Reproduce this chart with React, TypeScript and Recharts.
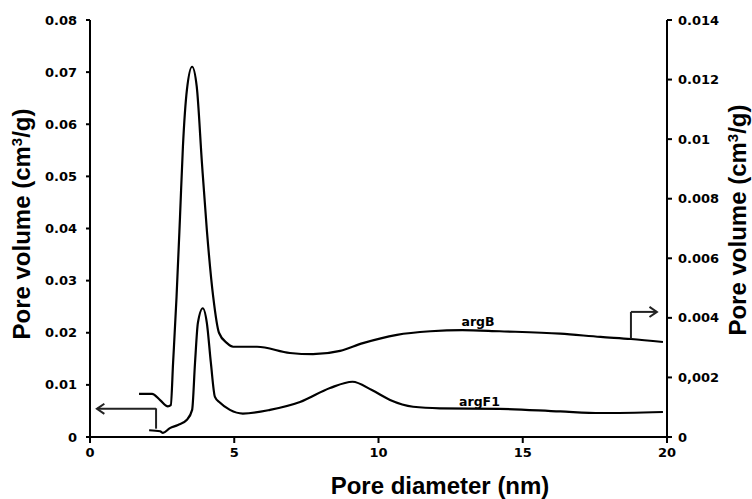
import React from 'react'
import {
  LineChart,
  Line,
  XAxis,
  YAxis,
  ReferenceLine,
  ReferenceDot
} from 'recharts'

// pore diameter (nm) / pore volume (cm3/g)
const argF1Diameter = [2.05, 2.43, 2.53, 2.77, 3.05, 3.36, 3.54, 3.64, 3.74, 3.91, 4.05, 4.19, 4.33, 4.5, 4.85, 5.3, 6.24, 7.28, 8.32, 9.1, 9.77, 10.4, 11.2, 12.13, 14.2, 16.3, 17.7, 19.86]
const argF1Volume = [0.0013, 0.0011, 0.0008, 0.0017, 0.0023, 0.0033, 0.0052, 0.0142, 0.0219, 0.0247, 0.0219, 0.0142, 0.0077, 0.0066, 0.0052, 0.0045, 0.0052, 0.0067, 0.0094, 0.0106, 0.009, 0.0071, 0.0058, 0.0055, 0.0054, 0.0049, 0.0046, 0.0048]

// argB is read on the right axis
const argBDiameter = [1.7, 2.15, 2.43, 2.7, 2.8, 2.88, 3.0, 3.12, 3.22, 3.36, 3.54, 3.7, 3.88, 4.05, 4.27, 4.47, 4.75, 4.96, 5.79, 6.93, 7.73, 8.67, 9.46, 10.64, 11.8, 12.9, 14.2, 16.3, 17.7, 18.75, 19.86]
const argBVolume = [0.00145, 0.00145, 0.00124, 0.00103, 0.00107, 0.00249, 0.00471, 0.00739, 0.00973, 0.01166, 0.01243, 0.01176, 0.0092, 0.00695, 0.00471, 0.0035, 0.00315, 0.00303, 0.00303, 0.00282, 0.00278, 0.00289, 0.00315, 0.00343, 0.00355, 0.00359, 0.00355, 0.00347, 0.00336, 0.00329, 0.00319]

const xTicks = [0, 5, 10, 15, 20]
const leftTicks = [0, 0.01, 0.02, 0.03, 0.04, 0.05, 0.06, 0.07, 0.08]
const rightTicks = [0, 0.002, 0.004, 0.006, 0.008, 0.01, 0.012, 0.014]
const rightTickLabels = ['0', '0,002', '0.004', '0.006', '0.008', '0.01', '0.012', '0.014']

const argF1Data = argF1Diameter.map((d, i) => ({ d, v: argF1Volume[i] }))
const argBData = argBDiameter.map((d, i) => ({ d, v: argBVolume[i] }))

const TICK_FONT = { fontFamily: 'DejaVu Sans', fontWeight: 'bold', fontSize: 13, fill: '#000' }
const TITLE_FONT = 'Liberation Sans'

const leftFormat = (v: number) => (v === 0 ? '0' : v.toFixed(2))
const rightFormat = (v: number) => {
  const i = rightTicks.findIndex(t => Math.abs(t - v) < 1e-9)
  return i >= 0 ? rightTickLabels[i] : String(v)
}

const Arrow = (p: any) => {
  const { x1, y1, x2, y2 } = p
  const a = Math.atan2(y2 - y1, x2 - x1)
  const len = 9
  const s = 0.6
  const pts = [
    [x2 - len * Math.cos(a - s), y2 - len * Math.sin(a - s)],
    [x2, y2],
    [x2 - len * Math.cos(a + s), y2 - len * Math.sin(a + s)]
  ]
  return (
    <g>
      <line x1={x1} y1={y1} x2={x2} y2={y2} stroke="#222" strokeWidth={2} />
      <polyline points={pts.map(q => q.join(',')).join(' ')} fill="none" stroke="#222" strokeWidth={2} />
    </g>
  )
}

const Stem = (p: any) => (
  <line x1={p.x1} y1={p.y1} x2={p.x2} y2={p.y2} stroke="#222" strokeWidth={2} />
)

const seriesLabel = (text: string) => (p: any) => (
  <text
    x={p.cx}
    y={p.cy}
    textAnchor="middle"
    dominantBaseline="central"
    fontFamily="DejaVu Sans"
    fontWeight="bold"
    fontSize={12.5}
    fill="#000"
  >
    {text}
  </text>
)

const YTitle = ({ x, y }: { x: number; y: number }) => (
  <text
    x={x}
    y={y}
    transform={`rotate(-90, ${x}, ${y})`}
    textAnchor="middle"
    fontFamily={TITLE_FONT}
    fontWeight="bold"
    fontSize={24}
    fill="#000"
  >
    Pore volume (cm<tspan dy={-8} fontSize={15}>3</tspan>
    <tspan dy={8}>/g)</tspan>
  </text>
)

export default function App() {
  return (
    <div style={{ position: 'absolute', left: 0, top: 0, width: 752, height: 499, background: '#fff' }}>
      <LineChart width={752} height={499} margin={{ top: 20, right: 25, bottom: 32, left: 30 }}>
        <XAxis
          dataKey="d"
          type="number"
          domain={[0, 20]}
          ticks={xTicks}
          allowDataOverflow
          height={30}
          axisLine={{ stroke: '#000', strokeWidth: 2 }}
          tickLine={{ stroke: '#000', strokeWidth: 2 }}
          tickSize={6}
          tickMargin={5}
          tick={TICK_FONT}
        />
        <YAxis
          yAxisId="left"
          domain={[0, 0.08]}
          ticks={leftTicks}
          width={60}
          axisLine={{ stroke: '#000', strokeWidth: 2 }}
          tickLine={{ stroke: '#000', strokeWidth: 2 }}
          tickSize={4}
          tickMargin={9}
          tickFormatter={leftFormat}
          tick={TICK_FONT}
        />
        <YAxis
          yAxisId="right"
          orientation="right"
          domain={[0, 0.014]}
          ticks={rightTicks}
          width={60}
          axisLine={{ stroke: '#000', strokeWidth: 2 }}
          tickLine={{ stroke: '#000', strokeWidth: 2 }}
          tickSize={5}
          tickMargin={6}
          tickFormatter={rightFormat}
          tick={{ ...TICK_FONT, textAnchor: 'start' }}
        />
        <Line
          yAxisId="left"
          data={argF1Data}
          dataKey="v"
          type="monotone"
          stroke="#000"
          strokeWidth={2.2}
          dot={false}
          activeDot={false}
          isAnimationActive={false}
        />
        <Line
          yAxisId="right"
          data={argBData}
          dataKey="v"
          type="monotone"
          stroke="#000"
          strokeWidth={2.2}
          dot={false}
          activeDot={false}
          isAnimationActive={false}
        />
        {/* argF1 -> left axis */}
        <ReferenceLine yAxisId="left" segment={[{ x: 2.29, y: 0.0016 }, { x: 2.29, y: 0.0055 }]} shape={Stem} />
        <ReferenceLine yAxisId="left" segment={[{ x: 2.29, y: 0.0054 }, { x: 0.24, y: 0.0054 }]} shape={Arrow} />
        {/* argB -> right axis */}
        <ReferenceLine yAxisId="right" segment={[{ x: 18.75, y: 0.0033 }, { x: 18.75, y: 0.0042 }]} shape={Stem} />
        <ReferenceLine yAxisId="right" segment={[{ x: 18.75, y: 0.0042 }, { x: 19.65, y: 0.0042 }]} shape={Arrow} />
        <ReferenceDot yAxisId="left" x={13.45} y={0.0222} r={0} shape={seriesLabel('argB')} />
        <ReferenceDot yAxisId="left" x={13.5} y={0.0069} r={0} shape={seriesLabel('argF1')} />
      </LineChart>
      <svg width={752} height={499} style={{ position: 'absolute', left: 0, top: 0, pointerEvents: 'none' }}>
        <YTitle x={29.5} y={224} />
        <YTitle x={745.5} y={220} />
        <text x={440} y={494} textAnchor="middle" fontFamily={TITLE_FONT} fontWeight="bold" fontSize={24} fill="#000">
          Pore diameter (nm)
        </text>
      </svg>
    </div>
  )
}
